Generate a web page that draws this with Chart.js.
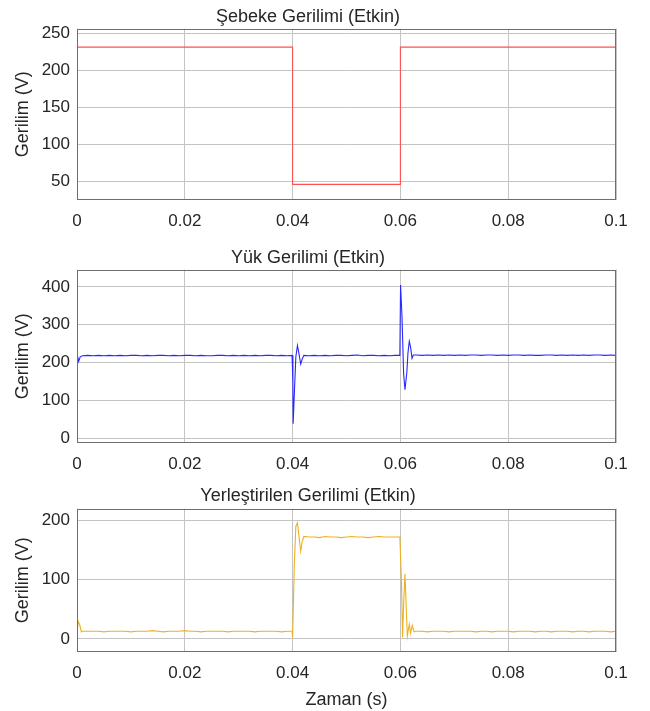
<!DOCTYPE html>
<html><head><meta charset="utf-8">
<script src="https://cdn.jsdelivr.net/npm/chart.js@4.4.1/dist/chart.umd.min.js"></script>
<style>
html,body{margin:0;padding:0;background:#fff;}
body{width:650px;height:711px;position:relative;overflow:hidden;}
canvas{position:absolute;left:0;}
</style></head><body>
<canvas id="c1" width="650" height="240" style="top:0px"></canvas>
<canvas id="c2" width="650" height="241" style="top:240px"></canvas>
<canvas id="c3" width="650" height="230" style="top:481px"></canvas>
<script>
// ---- data ----
const titles = ["Şebeke Gerilimi (Etkin)", "Yük Gerilimi (Etkin)", "Yerleştirilen Gerilimi (Etkin)"];
const yLabel = "Gerilim (V)";
const xLabel = "Zaman (s)";
const xTicks = [0, 0.02, 0.04, 0.06, 0.08, 0.1];

const supplyTime = [0, 0.04, 0.04, 0.06, 0.06, 0.1];
const supplyVolts = [231, 231, 46, 46, 231, 231];

const loadTime = [0, 0.0003, 0.0006, 0.001,
 0.002,0.003,0.004,0.005,0.006,0.007,0.008,0.009,0.010,0.011,0.012,0.013,0.014,0.015,0.016,0.017,0.018,0.019,0.020,
 0.021,0.022,0.023,0.024,0.025,0.026,0.027,0.028,0.029,0.030,0.031,0.032,0.033,0.034,0.035,0.036,0.037,0.038,0.039,
 0.0399, 0.04005, 0.0401, 0.0403, 0.0406, 0.0409, 0.0412, 0.0415, 0.0418, 0.0421,
 0.043,0.044,0.045,0.046,0.047,0.048,0.049,0.050,0.051,0.052,0.053,0.054,0.055,0.056,0.057,0.058,0.059,
 0.0599, 0.06003, 0.0603, 0.0606, 0.06085, 0.0612, 0.0614, 0.06165, 0.0619, 0.06215, 0.0624,
 0.063,0.064,0.065,0.066,0.067,0.068,0.069,0.070,0.071,0.072,0.073,0.074,0.075,0.076,0.077,0.078,0.079,0.080,
 0.081,0.082,0.083,0.084,0.085,0.086,0.087,0.088,0.089,0.090,0.091,0.092,0.093,0.094,0.095,0.096,0.097,0.098,0.099,0.100];
const loadVolts = [224, 203, 215, 218,
 219,218,219,218,219,218,219,218,219,219,218,219,218,219,219,218,219,218,219,
 219,218,219,218,218,219,219,218,219,218,219,218,219,218,219,219,218,219,218,
 219, 150, 38, 110, 215, 245, 222, 196, 210, 219,
 218,219,218,219,218,219,219,218,219,220,218,219,219,218,219,218,219,
 219, 405, 320, 170, 128, 175, 225, 256, 240, 211, 220,
 220,219,220,219,220,219,220,219,220,219,220,220,219,220,220,219,220,219,
 220,220,219,220,219,219,220,220,219,220,219,220,219,220,219,220,220,219,220,219];

const injTime = [0, 0.0002, 0.0005, 0.0008, 0.001,
 0.002,0.003,0.004,0.005,0.006,0.007,0.008,0.009,0.010,0.011,0.012,0.013,0.014,0.015,0.016,0.017,0.018,0.019,0.020,
 0.021,0.022,0.023,0.024,0.025,0.026,0.027,0.028,0.029,0.030,0.031,0.032,0.033,0.034,0.035,0.036,0.037,0.038,0.039,
 0.0399, 0.04, 0.0403, 0.0406, 0.0409, 0.0412, 0.0415, 0.0418, 0.0421,
 0.043,0.044,0.045,0.046,0.047,0.048,0.049,0.050,0.051,0.052,0.053,0.054,0.055,0.056,0.057,0.058,0.059,
 0.0599, 0.0602, 0.0604, 0.0606, 0.06085, 0.0611, 0.06128, 0.06165, 0.0619, 0.0622, 0.06253, 0.0628,
 0.063,0.064,0.065,0.066,0.067,0.068,0.069,0.070,0.071,0.072,0.073,0.074,0.075,0.076,0.077,0.078,0.079,0.080,
 0.081,0.082,0.083,0.084,0.085,0.086,0.087,0.088,0.089,0.090,0.091,0.092,0.093,0.094,0.095,0.096,0.097,0.098,0.099,0.100];
const injVolts = [4, 30, 24, 12, 13,
 13,13,13,12,13,13,13,13,12,13,13,13,14,13,12,13,13,13,14,
 13,13,12,13,13,13,13,12,13,13,13,13,12,13,13,13,13,12,13,
 13, 3, 120, 190, 196, 172, 148, 165, 173,
 172,172,171,173,172,172,171,172,173,172,172,171,172,173,172,172,172,
 172, 95, 3, 60, 110, 50, 5, 25, 10, 23, 12, 13,
 13,13,12,13,13,13,12,13,13,13,13,12,13,13,12,13,13,13,
 12,13,13,13,12,13,13,12,13,13,13,12,13,13,12,13,13,13,12,13];

const yTicks1 = [50, 100, 150, 200, 250];
const yTicks2 = [0, 100, 200, 300, 400];
const yTicks3 = [0, 100, 200];

// ---- rendering ----
const FONT = "'Liberation Sans', Arial, Helvetica, sans-serif";
const TEXT = '#262626';
const GRID = '#c4c4c4';

const boxPlugin = {
  id: 'box',
  afterDatasetsDraw(chart) {
    const a = chart.chartArea, ctx = chart.ctx;
    ctx.save();
    ctx.strokeStyle = '#6e6e6e';
    ctx.lineWidth = 1;
    ctx.strokeRect(Math.round(a.left) + 0.5, Math.round(a.top) + 0.5,
      Math.round(a.right - a.left) - 1, Math.round(a.bottom - a.top) - 1);
    ctx.restore();
  }
};

function toXY(t, v) { return t.map((x, i) => ({x: x, y: v[i]})); }

function makeChart(id, title, time, volts, color, ymin, ymax, yt, opts) {
  new Chart(document.getElementById(id), {
    type: 'line',
    data: { datasets: [{ data: toXY(time, volts), borderColor: color, borderWidth: 1.1,
      pointRadius: 0, tension: 0, fill: false }] },
    plugins: [boxPlugin],
    options: {
      responsive: false, animation: false, events: [],
      layout: { padding: { top: opts.padTop, right: 34, left: 0, bottom: 0 } },
      plugins: {
        legend: { display: false }, tooltip: { enabled: false },
        title: { display: true, text: title, color: TEXT,
          font: { family: FONT, size: 18, weight: 'normal' }, padding: { top: opts.tTop, bottom: 6 - opts.tTop } }
      },
      scales: {
        x: {
          type: 'linear', min: 0, max: 0.1,
          afterBuildTicks: s => { s.ticks = xTicks.map(v => ({ value: v })); },
          afterFit: s => { s.height = opts.xh; },
          grid: { color: GRID, drawTicks: false, lineWidth: 1 },
          border: { display: false },
          ticks: { color: TEXT, padding: 11, maxRotation: 0, autoSkip: false,
            font: { family: FONT, size: 17 },
            callback: v => String(+v.toFixed(2)) },
          title: { display: opts.xTitle, text: xLabel, color: TEXT,
            font: { family: FONT, size: 18 }, padding: { top: 2, bottom: 0 } }
        },
        y: {
          min: ymin, max: ymax,
          afterBuildTicks: s => { s.ticks = yt.map(v => ({ value: v })); },
          afterFit: s => { s.width = 77; },
          grid: { color: GRID, drawTicks: false, lineWidth: 1 },
          border: { display: false },
          ticks: { color: TEXT, padding: 7, font: { family: FONT, size: 17 } },
          title: { display: true, text: yLabel, color: TEXT,
            font: { family: FONT, size: 18 }, padding: { top: 12, bottom: 0 } }
        }
      }
    }
  });
}

makeChart('c1', titles[0], supplyTime, supplyVolts, 'rgb(255,80,80)', 25, 256, yTicks1, { padTop: 1, tTop: 5, xh: 40, xTitle: false });
makeChart('c2', titles[1], loadTime, loadVolts, 'rgb(40,40,255)', -13, 446, yTicks2, { padTop: 2, tTop: 5, xh: 38, xTitle: false });
makeChart('c3', titles[2], injTime, injVolts, 'rgb(237,177,32)', -22, 220, yTicks3, { padTop: 0, tTop: 4, xh: 59, xTitle: true });
</script>
</body></html>
